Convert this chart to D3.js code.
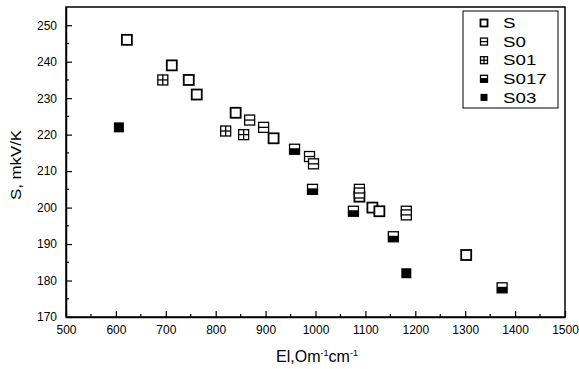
<!DOCTYPE html>
<html>
<head>
<meta charset="utf-8">
<script src="https://cdn.jsdelivr.net/npm/d3@7"></script>
<style>
  body { margin: 0; background: #fff; }
  svg text { font-family: "Liberation Sans", Arial, sans-serif; fill: #000; }
</style>
</head>
<body>
<div id="chart"></div>
<script>
// series: [El, S]
const seriesNames = ["S", "S0", "S01", "S017", "S03"];
const sData = [[622, 246], [712, 239], [746, 235], [762, 231], [840, 226], [916, 219],
               [1088, 203], [1114, 200], [1128, 199], [1302, 187]];
const s0Data = [[868, 224], [896, 222], [988, 214], [996, 212], [1088, 205], [1088, 204],
                [1182, 199], [1182, 198]];
const s01Data = [[694, 235], [820, 221], [856, 220]];
const s017Data = [[958, 216], [994, 205], [1076, 199], [1156, 192], [1374, 178]];
const s03Data = [[606, 222], [1182, 182]];
const xTicks = [500, 600, 700, 800, 900, 1000, 1100, 1200, 1300, 1400, 1500];
const yTicks = [170, 180, 190, 200, 210, 220, 230, 240, 250];

const width = 579, height = 369;
const margin = {top: 7, right: 14, bottom: 52, left: 66};

const svg = d3.select("#chart").append("svg")
    .attr("width", width).attr("height", height);

const x = d3.scaleLinear().domain([500, 1500]).range([margin.left, width - margin.right]);
const y = d3.scaleLinear().domain([170, 255]).range([height - margin.bottom, margin.top]);

// frame
svg.append("rect")
    .attr("x", margin.left).attr("y", margin.top)
    .attr("width", width - margin.left - margin.right)
    .attr("height", height - margin.top - margin.bottom)
    .attr("fill", "none").attr("stroke", "#000").attr("stroke-width", 1.5);

// minor ticks (inside)
const xMinor = d3.range(550, 1500, 100);
const yMinor = d3.range(175, 255, 10);
svg.append("g").selectAll("line").data(xMinor).join("line")
    .attr("x1", d => x(d)).attr("x2", d => x(d))
    .attr("y1", y(170)).attr("y2", y(170) - 3)
    .attr("stroke", "#000").attr("stroke-width", 1.2);
svg.append("g").selectAll("line").data(yMinor).join("line")
    .attr("y1", d => y(d)).attr("y2", d => y(d))
    .attr("x1", x(500)).attr("x2", x(500) + 3)
    .attr("stroke", "#000").attr("stroke-width", 1.2);

// axes with inward ticks
const xAxis = svg.append("g")
    .attr("transform", `translate(0,${y(170)})`)
    .call(d3.axisBottom(x).tickValues(xTicks).tickFormat(d3.format("d"))
      .tickSizeInner(-6).tickSizeOuter(0).tickPadding(8));
const yAxis = svg.append("g")
    .attr("transform", `translate(${x(500)},0)`)
    .call(d3.axisLeft(y).tickValues(yTicks).tickFormat(d3.format("d"))
      .tickSizeInner(-6).tickSizeOuter(0).tickPadding(9));
[xAxis, yAxis].forEach(g => {
  g.select(".domain").attr("stroke-width", 1.5);
  g.selectAll(".tick line").attr("stroke-width", 1.2);
  g.selectAll(".tick text").attr("font-size", 12)
    .attr("font-family", "'Liberation Sans', Arial, sans-serif");
});

// axis titles
svg.append("text")
    .attr("transform", `translate(21,165) rotate(-90)`)
    .attr("text-anchor", "middle").attr("font-size", 15)
    .attr("textLength", 70).attr("lengthAdjust", "spacingAndGlyphs")
    .text("S, mkV/K");
const xt = svg.append("text")
    .attr("x", 317).attr("y", 362)
    .attr("text-anchor", "middle").attr("font-size", 16);
xt.append("tspan").text("El,Om");
xt.append("tspan").attr("font-size", 9).attr("dy", -6).text("-1");
xt.append("tspan").attr("dy", 6).text("cm");
xt.append("tspan").attr("font-size", 9).attr("dy", -6).text("-1");

// marker drawing
function marker(g, type, s) {
  const h = s / 2;
  const sw = type === "S" ? 1.8 : 1.3;
  if (type === "S03") {
    g.append("rect").attr("x", -h).attr("y", -h).attr("width", s).attr("height", s)
      .attr("fill", "#000");
    return;
  }
  g.append("rect").attr("x", -h).attr("y", -h).attr("width", s).attr("height", s)
    .attr("fill", "#fff").attr("stroke", "#000").attr("stroke-width", sw);
  if (type === "S0") {
    g.append("line").attr("x1", -h).attr("x2", h).attr("y1", 0).attr("y2", 0)
      .attr("stroke", "#000").attr("stroke-width", sw);
  } else if (type === "S01") {
    g.append("line").attr("x1", -h).attr("x2", h).attr("y1", 0).attr("y2", 0)
      .attr("stroke", "#000").attr("stroke-width", sw);
    g.append("line").attr("y1", -h).attr("y2", h).attr("x1", 0).attr("x2", 0)
      .attr("stroke", "#000").attr("stroke-width", sw);
  } else if (type === "S017") {
    g.append("rect").attr("x", -h).attr("y", -h * 0.2).attr("width", s).attr("height", h * 1.2)
      .attr("fill", "#000");
  }
}

const allSeries = [
  {name: "S", data: sData},
  {name: "S0", data: s0Data},
  {name: "S01", data: s01Data},
  {name: "S017", data: s017Data},
  {name: "S03", data: s03Data}
];

allSeries.forEach(ser => {
  svg.append("g").selectAll("g").data(ser.data).join("g")
    .attr("transform", d => `translate(${x(d[0])},${y(d[1])})`)
    .each(function () { marker(d3.select(this), ser.name, 10); });
});

// legend
const leg = svg.append("g");
leg.append("rect").attr("x", 463).attr("y", 11).attr("width", 95).attr("height", 97)
  .attr("fill", "#fff").attr("stroke", "#000").attr("stroke-width", 1);
seriesNames.forEach((n, i) => {
  const row = leg.append("g").attr("transform", `translate(484,${23 + i * 18.6})`);
  marker(row.append("g"), n, 7);
  row.append("text").attr("x", 19).attr("dy", "0.35em").attr("font-size", 15)
    .attr("transform", "scale(1.25,1)").attr("x", 19 / 1.25).text(n);
});
</script>
</body>
</html>
